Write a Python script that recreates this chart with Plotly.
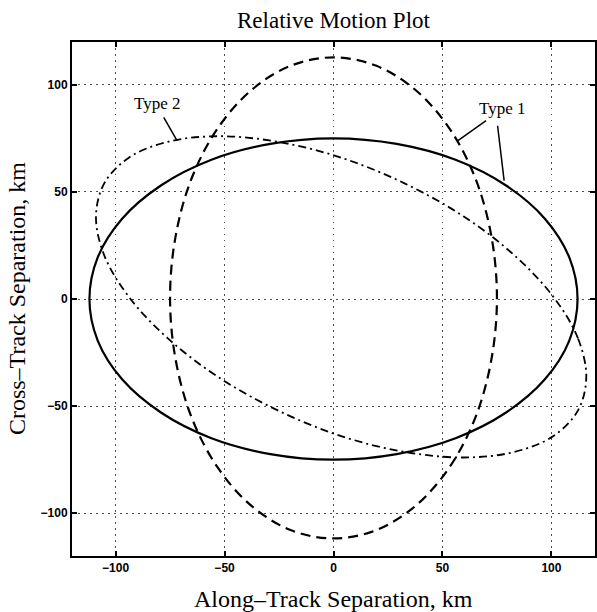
import plotly.graph_objects as go

# Type 1 (solid)
t1_x = [112, 108.2, 97.0, 79.2, 56.0, 29.0, 0, -29.0, -56.0, -79.2, -97.0, -108.2,
        -112, -108.2, -97.0, -79.2, -56.0, -29.0, 0, 29.0, 56.0, 79.2, 97.0, 108.2, 112]
t1_y = [0, 19.4, 37.5, 53.0, 65.0, 72.4, 75, 72.4, 65.0, 53.0, 37.5, 19.4,
        0, -19.4, -37.5, -53.0, -65.0, -72.4, -75, -72.4, -65.0, -53.0, -37.5, -19.4, 0]

# dashed vertical ellipse
d_x = [75, 72.4, 65.0, 53.0, 37.5, 19.4, 0, -19.4, -37.5, -53.0, -65.0, -72.4,
       -75, -72.4, -65.0, -53.0, -37.5, -19.4, 0, 19.4, 37.5, 53.0, 65.0, 72.4, 75]
d_y = [0.5, 29.6, 56.6, 79.9, 97.7, 109.0, 112.8, 109.0, 97.7, 79.9, 56.6, 29.6,
       0.5, -28.6, -55.6, -78.9, -96.7, -108.0, -111.8, -108.0, -96.7, -78.9, -55.6, -28.6, 0.5]

# Type 2 (dash-dot, tilted ellipse)
t2_x = [116, 112.2, 100.9, 83.0, 59.8, 32.6, 3.5, -25.6, -52.8, -76.0, -93.9, -105.2,
        -109, -105.2, -93.9, -76.0, -52.8, -25.6, 3.5, 32.6, 59.8, 83.0, 100.9, 112.2, 116]
t2_y = [-36.5, -18.4, 1, 20.4, 38.5, 54.0, 66.0, 73.4, 76, 73.4, 66.0, 54.0,
        38.5, 20.4, 1, -18.4, -36.5, -52.0, -64.0, -71.4, -74, -71.4, -64.0, -52.0, -36.5]

ticks = [-100, -50, 0, 50, 100]

fig = go.Figure()
fig.add_trace(go.Scatter(x=t1_x, y=t1_y, mode="lines", line=dict(color="black", width=2.2, shape="spline"), showlegend=False))
fig.add_trace(go.Scatter(x=d_x, y=d_y, mode="lines", line=dict(color="black", width=2.2, dash="10px,6px", shape="spline"), showlegend=False))
fig.add_trace(go.Scatter(x=t2_x, y=t2_y, mode="lines", line=dict(color="black", width=1.8, dash="8px,4px,2px,4px", shape="spline"), showlegend=False))

serif = "Liberation Serif, Times New Roman, serif"
axis_common = dict(range=[-120, 120], tickvals=ticks, ticks="inside", ticklen=5, tickwidth=1.5,
                   tickcolor="black", showline=True, linecolor="black", linewidth=2, mirror="ticks",
                   showgrid=True, gridcolor="rgba(0,0,0,0.7)", gridwidth=1, griddash="1.5px,4.5px",
                   zeroline=False,
                   tickfont=dict(family="Liberation Sans, Arial, sans-serif", size=12, color="black", weight="bold"))

fig.update_layout(
    width=597, height=612,
    margin=dict(l=72, r=0, t=42, b=56),
    paper_bgcolor="white", plot_bgcolor="white",
    xaxis=dict(**axis_common),
    yaxis=dict(**axis_common),
    annotations=[
        dict(text="Relative Motion Plot", x=0.5, y=1.041, xref="paper", yref="paper", showarrow=False,
             font=dict(family=serif, size=23, color="black"), xanchor="center", yanchor="middle"),
        dict(text="Along\u2013Track Separation, km", x=0.5, y=-0.083, xref="paper", yref="paper", showarrow=False,
             font=dict(family=serif, size=24, color="black"), xanchor="center", yanchor="middle"),
        dict(text="Cross\u2013Track Separation, km", x=-0.105, y=0.5, xref="paper", yref="paper", showarrow=False,
             textangle=-90, font=dict(family=serif, size=24, color="black"), xanchor="center", yanchor="middle"),
        dict(text="Type 2", x=-80.8, y=91.2, xref="x", yref="y", showarrow=False,
             font=dict(family=serif, size=17, color="black")),
        dict(text="Type 1", x=77.4, y=89.1, xref="x", yref="y", showarrow=False,
             font=dict(family=serif, size=17, color="black")),
    ],
    shapes=[
        dict(type="line", x0=-77.9, y0=84.8, x1=-71.8, y1=74, xref="x", yref="y", line=dict(color="black", width=1.5)),
        dict(type="line", x0=70, y0=83.3, x1=57.1, y1=74, xref="x", yref="y", line=dict(color="black", width=1.5)),
        dict(type="line", x0=75.3, y0=80.9, x1=78.3, y1=55.3, xref="x", yref="y", line=dict(color="black", width=1.5)),
    ],
)

fig.write_html("out.html", config={"displayModeBar": False},
               post_script="document.body.style.margin='0px';")
